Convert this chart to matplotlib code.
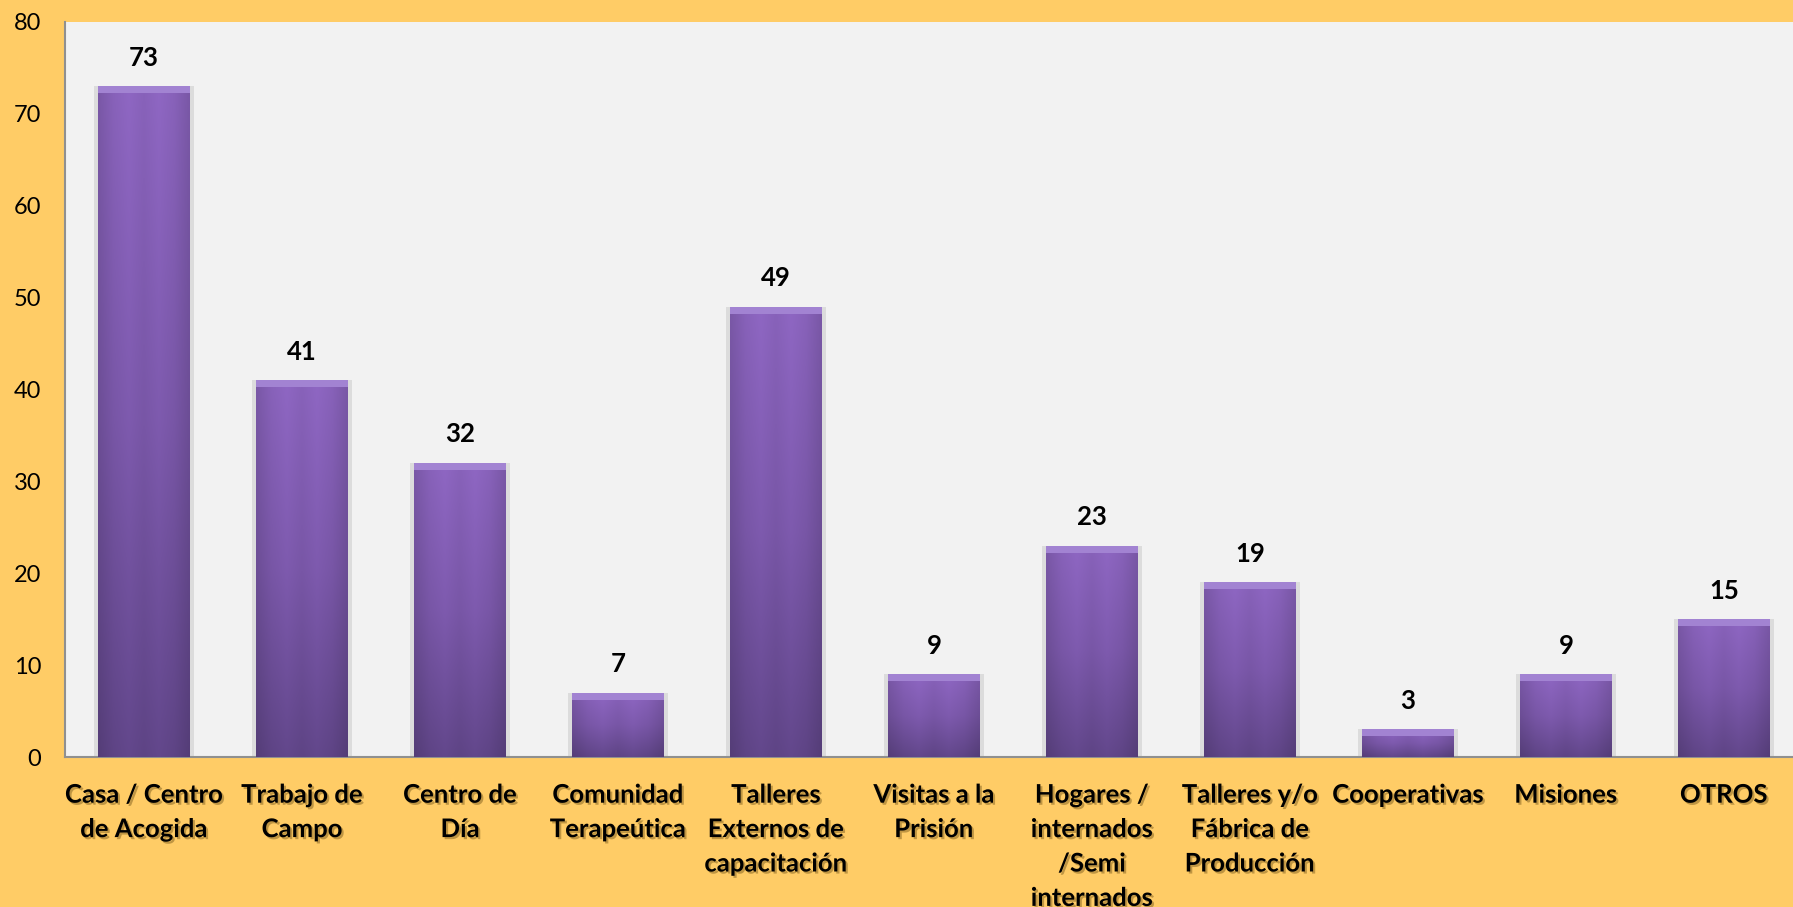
import matplotlib
matplotlib.use("Agg")
import matplotlib.pyplot as plt
import matplotlib.patheffects as pe
import numpy as np
from matplotlib.colors import LinearSegmentedColormap

categories = ["Casa / Centro\nde Acogida", "Trabajo de\nCampo", "Centro de\nDía",
              "Comunidad\nTerapeútica", "Talleres\nExternos de\ncapacitación",
              "Visitas a la\nPrisión", "Hogares /\ninternados\n/Semi\ninternados",
              "Talleres y/o\nFábrica de\nProducción", "Cooperativas", "Misiones", "OTROS"]
values = [73, 41, 32, 7, 49, 9, 23, 19, 3, 9, 15]
yticks = [0, 10, 20, 30, 40, 50, 60, 70, 80]

plt.rcParams['font.family'] = ['Lato', 'DejaVu Sans']

W, H = 1793, 907
fig = plt.figure(figsize=(W / 100, H / 100), dpi=100)
fig.patch.set_facecolor('#FFCC66')
left, top, bottom = 65, 22, 757
slot = 158
ax = fig.add_axes([left / W, (H - bottom) / H, slot * len(values) / W, (bottom - top) / H])
ax.set_facecolor('#F2F2F2')

x = np.arange(len(values))
bw = 0.58
ax.set_xlim(-0.5, len(values) - 0.5)
ax.set_ylim(0, 80)

# soft shadow behind bars
ax.bar(x, values, width=bw + 0.05, color='#DCDCDC', zorder=1, linewidth=0)
bars = ax.bar(x, values, width=bw, color='#7A5AA8', zorder=2, linewidth=0)

cmap = LinearSegmentedColormap.from_list('pg', ['#5E4485', '#7856A6', '#8862BA'])
grad = np.linspace(0, 1, 256).reshape(-1, 1)
hcmap = np.array([0.9, 1.0, 1.05, 1.0, 1.05, 1.0, 0.9])
for b, v in zip(bars, values):
    x0 = b.get_x()
    img = cmap(grad)[:, :, :3]
    img = np.repeat(img, 60, axis=1)
    shade = np.interp(np.linspace(0, 1, 60), np.linspace(0, 1, len(hcmap)), hcmap)
    img = np.clip(img * shade[None, :, None], 0, 1)
    im = ax.imshow(img, extent=[x0, x0 + bw, 0, v], origin='lower', aspect='auto', zorder=3)
    im.set_clip_path(b)
    bev = 0.75
    ax.bar(b.get_x() + bw / 2, bev, bottom=v - bev, width=bw, color='#A283D2', zorder=4, linewidth=0)
    ax.annotate(str(v), (b.get_x() + bw / 2, v), xytext=(0, 12), textcoords='offset points',
                ha='center', va='bottom', fontsize=18.5, fontweight='bold', color='black')

ax.set_xlim(-0.5, len(values) - 0.5)
ax.set_ylim(0, 80)
ax.set_yticks(yticks)
ax.set_yticklabels([str(t) for t in yticks], fontsize=17)
ax.tick_params(axis='y', length=0, pad=17)
ax.tick_params(axis='x', length=0, pad=18.5)
ax.set_xticks(x)
ax.set_xticklabels(categories, fontsize=18.5, fontweight='bold', linespacing=1.52, va='top')
for lab in ax.get_xticklabels():
    lab.set_path_effects([pe.withSimplePatchShadow(offset=(1.5, -1.5), shadow_rgbFace='#806020', alpha=0.5)])

for s in ['top', 'right']:
    ax.spines[s].set_visible(False)
ax.spines['left'].set_color('#909090')
ax.spines['bottom'].set_color('#909090')
ax.spines['left'].set_linewidth(1.5)
ax.spines['bottom'].set_linewidth(1.5)

fig.savefig('out.png', dpi=100, facecolor=fig.get_facecolor())
